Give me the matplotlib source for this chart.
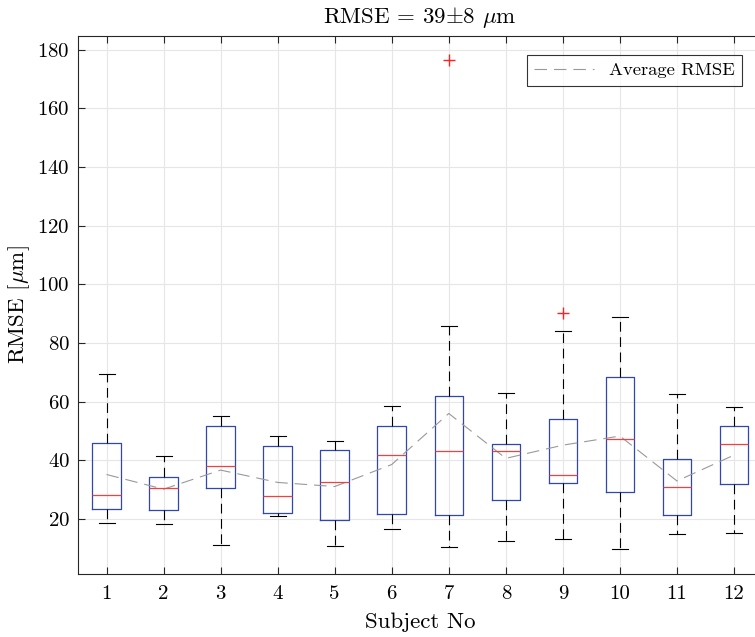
import numpy as np
import matplotlib
matplotlib.use('Agg')
import matplotlib.pyplot as plt

# RMSE per subject
subjects = np.arange(1, 13)
whisker_lo = [18.7, 18.2, 11.2, 20.9, 10.9, 16.5, 10.6, 12.7, 13.1, 9.7, 14.8, 15.1]
q1 = [23.3, 23.0, 30.6, 22.1, 19.7, 21.7, 21.4, 26.6, 32.4, 29.4, 21.4, 32.0]
med = [28.3, 30.5, 38.1, 27.9, 32.7, 42.0, 43.2, 43.2, 35.2, 47.4, 30.9, 45.6]
q3 = [46.1, 34.3, 51.8, 45.0, 43.6, 51.8, 61.8, 45.5, 54.0, 68.3, 40.5, 51.6]
whisker_hi = [69.3, 41.5, 55.2, 48.2, 46.6, 58.7, 85.7, 62.8, 84.2, 88.9, 62.7, 58.2]
outliers = [[], [], [], [], [], [], [176.4], [], [90.1], [], [], []]

# average RMSE per subject
avg_rmse = [35.2, 30.2, 36.7, 32.5, 31.1, 38.6, 56.0, 40.7, 45.2, 48.3, 33.0, 41.8]

plt.rcParams['font.family'] = 'serif'
plt.rcParams['font.serif'] = ['cmr10']
plt.rcParams['mathtext.fontset'] = 'cm'
plt.rcParams['axes.formatter.use_mathtext'] = True
plt.rcParams['lines.scale_dashes'] = False

stats = []
for i in range(len(subjects)):
    stats.append(dict(med=med[i], q1=q1[i], q3=q3[i],
                      whislo=whisker_lo[i], whishi=whisker_hi[i],
                      fliers=outliers[i]))

fig = plt.figure(figsize=(7.55, 6.37), dpi=100)
ax = fig.add_axes([78/755, 63/637, (762.5-78)/755, (574-36)/637])

ax.grid(True, color='#e6e6e6', linewidth=0.8)
ax.set_axisbelow(True)

ax.bxp(stats, positions=subjects, widths=0.5, capwidths=0.28,
       boxprops=dict(color='#3046b0', linewidth=0.9),
       medianprops=dict(color='#f04040', linewidth=0.9),
       whiskerprops=dict(color='k', linewidth=0.8, linestyle=(0, (7, 4))),
       capprops=dict(color='k', linewidth=0.8),
       flierprops=dict(marker='+', markeredgecolor='#ff2020', markersize=9,
                       markeredgewidth=1.0))

ax.plot(subjects, avg_rmse, color='#999999', linewidth=0.8,
        linestyle=(0, (9, 5)), label='Average RMSE')

ax.set_xlim(0.5, 12.5)
ax.set_ylim(1.3, 184.6)
ax.set_xticks(subjects)
ax.set_xticklabels([str(s) for s in subjects])
ax.set_yticks(np.arange(20, 181, 20))

ax.tick_params(direction='in', top=True, right=True, length=5, width=0.8,
               labelsize=15, color='#262626', pad=6)
ax.tick_params(axis='x', pad=8)
for sp in ax.spines.values():
    sp.set_color('#262626')
    sp.set_linewidth(0.8)

ax.set_title(r'RMSE = 39$\pm$8 $\mu$m', fontsize=16.5, pad=9)
ax.set_xlabel('Subject No', fontsize=16.5, labelpad=7)
ax.set_ylabel(r'RMSE [$\mu$m]', fontsize=16.5, labelpad=4)

leg = ax.legend(loc='upper right', bbox_to_anchor=(742/755, (637-55)/637),
                bbox_transform=fig.transFigure, borderaxespad=0,
                fancybox=False, edgecolor='k', fontsize=13.4, handlelength=3.2,
                borderpad=0.4)
leg.get_frame().set_linewidth(0.8)

fig.savefig('out.png', dpi=100)
